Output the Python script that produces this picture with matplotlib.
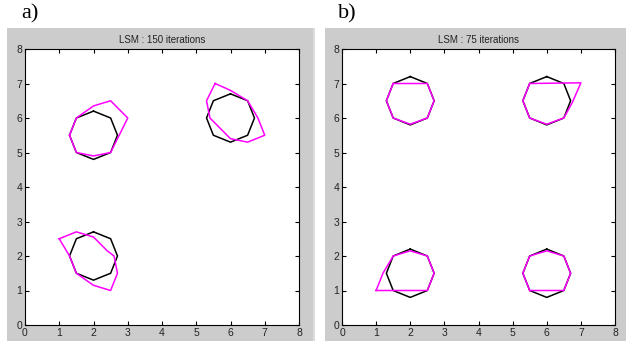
import numpy as np
import matplotlib
matplotlib.use("Agg")
import matplotlib.pyplot as plt
from matplotlib.patches import Rectangle

# true contours (octagons): centres and vertex offsets
oct_dx = [0.0, 0.5, 0.7, 0.5, 0.0, -0.5, -0.7, -0.5]
oct_dy = [0.7, 0.5, 0.0, -0.5, -0.7, -0.5, 0.0, 0.5]
centres_a = [(2, 5.5), (6, 6.0), (2, 2.0)]
centres_b = [(2, 6.5), (6, 6.5), (2, 1.5), (6, 1.5)]

# LSM contours, panel a (150 iterations)
lsm_a = [
    [(1.3, 5.5), (1.5, 5.0), (2.0, 4.9), (2.5, 5.0), (3.0, 6.0), (2.5, 6.5), (2.0, 6.35), (1.5, 6.0)],
    [(5.55, 7.0), (6.0, 6.8), (6.5, 6.5), (6.8, 6.0), (7.0, 5.5), (6.5, 5.3), (6.0, 5.4), (5.4, 6.0), (5.3, 6.5)],
    [(1.0, 2.5), (1.5, 2.7), (2.0, 2.55), (2.4, 2.15), (2.6, 2.0), (2.7, 1.5), (2.5, 1.0), (2.0, 1.15), (1.5, 1.5), (1.3, 2.0)],
]
# LSM contours, panel b (75 iterations)
lsm_b = [
    [(1.5, 7.0), (2.5, 7.0), (2.7, 6.5), (2.5, 6.0), (2.0, 5.82), (1.5, 6.0), (1.3, 6.5)],
    [(5.5, 7.0), (7.0, 7.02), (6.75, 6.45), (6.5, 6.0), (6.0, 5.82), (5.5, 6.0), (5.3, 6.5)],
    [(1.0, 1.0), (1.2, 1.5), (1.5, 2.0), (2.0, 2.15), (2.5, 2.0), (2.7, 1.5), (2.5, 1.0)],
    [(5.5, 1.0), (6.5, 1.0), (6.7, 1.5), (6.5, 2.0), (6.0, 2.15), (5.5, 2.0), (5.3, 1.5)],
]
titles = ["LSM : 150 iterations", "LSM : 75 iterations"]
labels = ["a)", "b)"]
ticks = [0, 1, 2, 3, 4, 5, 6, 7, 8]

W, H = 626, 341
fig = plt.figure(figsize=(W / 100, H / 100), dpi=100)
fig.patch.set_facecolor("white")

# grey matlab figure backgrounds
fig.add_artist(Rectangle((7 / W, 0), 306 / W, 313 / H, transform=fig.transFigure,
                         facecolor="#cccccc", edgecolor="none", zorder=0))
fig.add_artist(Rectangle((325 / W, 0), 301 / W, 313 / H, transform=fig.transFigure,
                         facecolor="#cccccc", edgecolor="none", zorder=0))
fig.add_artist(Rectangle((313 / W, 0), 2 / W, 313 / H, transform=fig.transFigure,
                         facecolor="#dddddd", edgecolor="none", zorder=0))

axes_px = [(25, 299), (342, 615)]
for i, (x0, x1) in enumerate(axes_px):
    ax = fig.add_axes([x0 / W, 16 / H, (x1 - x0) / W, 276 / H])
    ax.set_facecolor("white")
    centres = centres_a if i == 0 else centres_b
    lsm = lsm_a if i == 0 else lsm_b
    for cx, cy in centres:
        xs = [cx + d for d in oct_dx] + [cx + oct_dx[0]]
        ys = [cy + d for d in oct_dy] + [cy + oct_dy[0]]
        ax.plot(xs, ys, color="black", lw=1.1)
    for poly in lsm:
        xs = [p[0] for p in poly] + [poly[0][0]]
        ys = [p[1] for p in poly] + [poly[0][1]]
        ax.plot(xs, ys, color="#ff00ff", lw=1.1)
    ax.set_xlim(0, 8)
    ax.set_ylim(0, 8)
    ax.set_xticks(ticks)
    ax.set_yticks(ticks)
    ax.tick_params(direction="in", top=True, right=True, length=3, width=0.8,
                   labelsize=7.5, labelcolor="#222222", pad=2)
    for lab in ax.get_xticklabels() + ax.get_yticklabels():
        lab.set_family("Liberation Sans")
    for s in ax.spines.values():
        s.set_linewidth(0.8)
    ax.set_title(titles[i], fontsize=7, family="Liberation Sans", color="#222222", pad=4)
    fig.text((x0 - 4) / W, 1 - 14 / H, labels[i], fontsize=16, family="Liberation Serif",
             va="center", ha="left")

fig.savefig("out.png", dpi=100)
